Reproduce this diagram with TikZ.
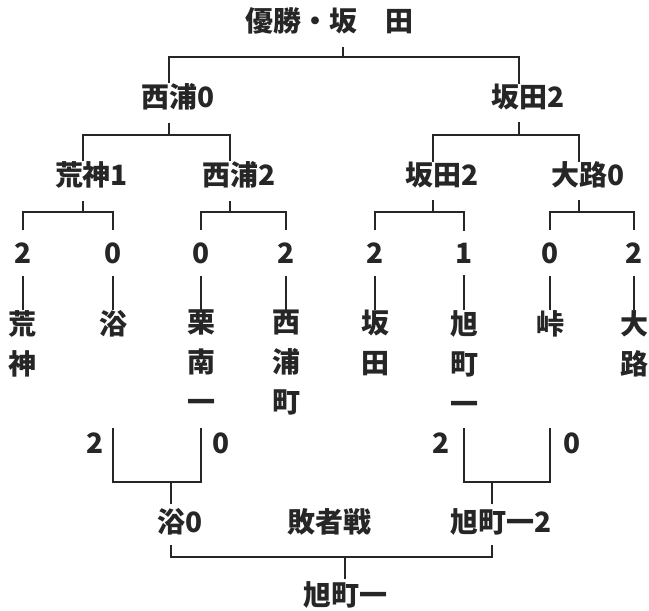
\documentclass[tikz,border=0pt]{standalone}
\usepackage{fontspec}
\setmainfont{Noto Sans CJK JP}
\usetikzlibrary{positioning}
\definecolor{ink}{HTML}{262626}

\begin{document}
\begin{tikzpicture}[x=1pt, y=-1pt,
    team/.style={inner sep=0pt, font=\fontsize{28}{40}\selectfont\bfseries, text=ink},
    leaf/.style={team, anchor=north, align=center},
    line/.style={draw=ink, line width=2.4pt},
    gap/.style={shorten >=12pt}
]
    \useasboundingbox (0,0) rectangle (649,611);

    % upper bracket
    \node[team] (final) at (329,21) {優勝・坂　田};
    \node[team] (semiL) at (169,97) {西浦\rlap{0}};
    \node[team] (semiR) at (519,97) {坂田\rlap{2}};

    \node[team] (qfA) at (83,175) {荒神\rlap{1}};
    \node[team] (qfB) at (230,175) {西浦\rlap{2}};
    \node[team] (qfC) at (433,175) {坂田\rlap{2}};
    \node[team] (qfD) at (579,175) {大路\rlap{0}};

    \node[team] (sA1) at (23,253) {2};
    \node[team] (sA2) at (113,253) {0};
    \node[team] (sB1) at (201,253) {0};
    \node[team] (sB2) at (286,253) {2};
    \node[team] (sC1) at (375,253) {2};
    \node[team] (sC2) at (464,253) {1};
    \node[team] (sD1) at (550,253) {0};
    \node[team] (sD2) at (634,253) {2};

    \node[leaf] (lfA1) at (23,310) {荒\\神};
    \node[leaf] (lfA2) at (113,310) {浴};
    \node[leaf] (lfB1) at (201,310) {栗\\南\\一};
    \node[leaf] (lfB2) at (286,310) {西\\浦\\町};
    \node[leaf] (lfC1) at (375,310) {坂\\田};
    \node[leaf] (lfC2) at (464,310) {旭\\町\\一};
    \node[leaf] (lfD1) at (550,310) {峠};
    \node[leaf] (lfD2) at (634,310) {大\\路};

    \coordinate (jF) at (343,57);
    \coordinate (jL) at (169,135);
    \coordinate (jR) at (519,135);
    \coordinate (jA) at (83,212);
    \coordinate (jB) at (230,212);
    \coordinate (jC) at (433,212);
    \coordinate (jD) at (579,212);

    \draw[line] (semiL.north) |- (jF) -| (semiR.north);
    \draw[line,gap] (jF) -- (jF |- final.south);

    \draw[line] (qfA.north) |- (jL) -| (qfB.north);
    \draw[line] (qfC.north) |- (jR) -| (qfD.north);
    \draw[line,gap] (jL) -- (semiL.south);
    \draw[line,gap] (jR) -- (semiR.south);

    \foreach \m in {A,B,C,D} {
        \draw[line,shorten <=12pt,shorten >=12pt] (s\m1.north) |- (j\m) -| (s\m2.north);
        \draw[line,gap] (j\m) -- (qf\m.south);
        \draw[line,shorten <=12pt] (s\m1.south) -- (lf\m1.north);
        \draw[line,shorten <=12pt] (s\m2.south) -- (lf\m2.north);
    }

    % losers' bracket
    \coordinate (lowtop) at (0,428);
    \coordinate (lowbar) at (0,482);
    \coordinate (finbar) at (0,557);

    \node[team] (cA) at (95,443) {2};
    \node[team] (cB) at (221,443) {0};
    \node[team] (cC) at (441,443) {2};
    \node[team] (cD) at (572,443) {0};

    \node[team] (yoku) at (171,522) {浴\rlap{0}};
    \node[team] (loser) at (329,522) {敗者戦};
    \node[team] (asahi) at (492,522) {旭町一\rlap{2}};
    \node[team] (third) at (345,595) {旭町一};

    \draw[line] (lfA2 |- lowtop) |- (yoku.north |- lowbar) -| (lfB1 |- lowtop);
    \draw[line] (lfC2 |- lowtop) |- (asahi.north |- lowbar) -| (lfD1 |- lowtop);
    \draw[line,shorten <=4pt] (yoku.north) -- (yoku.north |- lowbar);
    \draw[line,shorten <=4pt] (asahi.north) -- (asahi.north |- lowbar);

    \draw[line,shorten <=9pt,shorten >=9pt] (yoku.south) |- (third.north |- finbar) -| (asahi.south);
    \draw[line,shorten <=2pt] (third.north) -- (third.north |- finbar);
\end{tikzpicture}
\end{document}
